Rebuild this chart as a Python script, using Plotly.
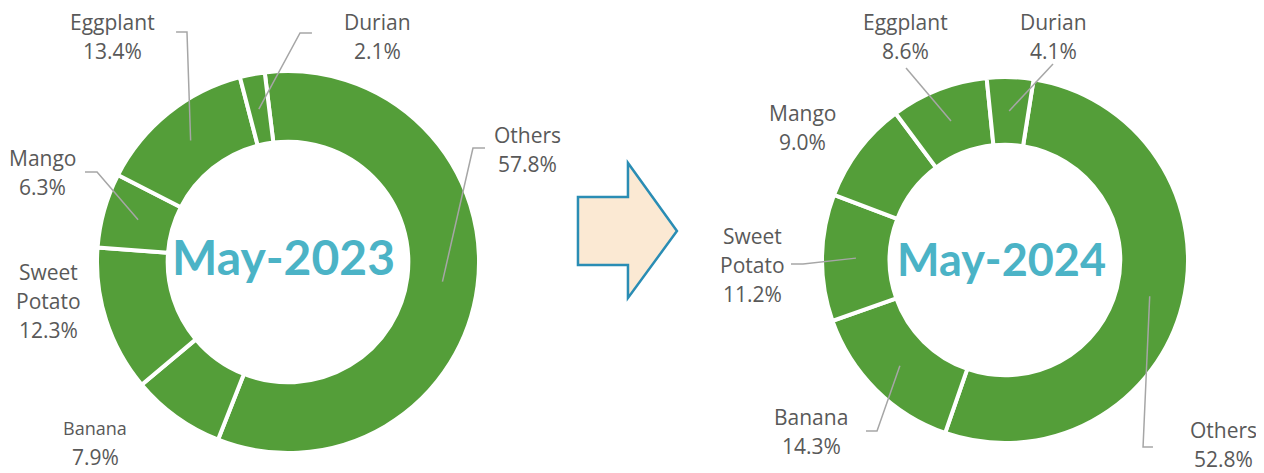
import math
import plotly.graph_objects as go

W, H = 1264, 473
OFF = 8  # the page body adds an 8px margin round the figure
FW, FH = W - OFF, H - OFF

labels = ["Others", "Banana", "Sweet Potato", "Mango", "Eggplant", "Durian"]
share_2023 = [57.8, 7.9, 12.3, 6.3, 13.4, 2.1]
share_2024 = [52.8, 14.3, 11.2, 9.0, 8.6, 4.1]
titles = ["May-2023", "May-2024"]

GREEN = "#549E39"
TEAL = "#4BB3C6"
TXT = "#595959"
LEAD = "#A6A6A6"
FONT = "Open Sans, Arial, sans-serif"
TITLE_FONT = "Lato, Arial, sans-serif"


def to_paper(x, y):
    # page pixels -> paper coords
    return (x - OFF) / FW, 1 - (y - OFF) / FH


# layout of each donut in page pixels: centre, radius, rotation, where each label sits
charts = [
    dict(values=share_2023, title=titles[0], cx=288, cy=262, r=191, rot=-7,
         title_size=48, title_xy=(283, 256),
         text_at={"Others": (527, 135), "Banana": (95, 428), "Sweet Potato": (48, 272),
                  "Mango": (42, 158), "Eggplant": (112, 22), "Durian": (377, 22)},
         elbow={"Others": [(473, 148), (485, 148)], "Mango": [(97, 172), (85, 172)],
                "Eggplant": [(187, 32), (176, 32)], "Durian": [(300, 33), (312, 33)]},
         small={"Banana"}),
    dict(values=share_2024, title=titles[1], cx=1005, cy=260, r=183, rot=9,
         title_size=45, title_xy=(1001, 259),
         text_at={"Others": (1223, 430), "Banana": (811, 417), "Sweet Potato": (752, 236),
                  "Mango": (802, 113), "Eggplant": (905, 22), "Durian": (1053, 22)},
         elbow={"Others": [(1143, 447), (1153, 447)], "Banana": [(877, 431), (866, 431)],
                "Sweet Potato": [(803, 264), (791, 264)], "Eggplant": [(906, 68)],
                "Durian": [(1053, 64)]},
         small=set()),
]

HOLE = 0.63
LINE_GAP = 29

fig = go.Figure()
annotations = []
shapes = []

for c in charts:
    x0, y1 = to_paper(c["cx"] - c["r"], c["cy"] - c["r"])
    x1, y0 = to_paper(c["cx"] + c["r"], c["cy"] + c["r"])
    fig.add_trace(go.Pie(
        labels=labels,
        values=c["values"],
        hole=HOLE,
        sort=False,
        direction="clockwise",
        rotation=c["rot"],
        textinfo="none",
        hoverinfo="label+value",
        marker=dict(colors=[GREEN] * len(labels), line=dict(color="white", width=4)),
        domain=dict(x=[x0, x1], y=[y0, y1]),
        showlegend=False,
    ))

    # centre title
    tx, ty = to_paper(*c["title_xy"])
    annotations.append(dict(x=tx, y=ty, xref="paper", yref="paper", xanchor="center", yanchor="middle",
                            text="<b>%s</b>" % c["title"], showarrow=False,
                            font=dict(family=TITLE_FONT, size=c["title_size"], color=TEAL)))

    total = sum(c["values"])
    ring_mid = c["r"] * (1 + HOLE) / 2
    cum = 0
    for lab, v in zip(labels, c["values"]):
        ang = math.radians(c["rot"] + 360 * (cum + v / 2) / total)
        cum += v
        ax = c["cx"] + ring_mid * math.sin(ang)
        ay = c["cy"] - ring_mid * math.cos(ang)

        lines = lab.split(" ") + ["%.1f%%" % v]
        lx, ly = c["text_at"][lab]
        for i, line in enumerate(lines):
            size = 18 if (lab in c["small"] and i < len(lines) - 1) else 21
            px_, py_ = to_paper(lx, ly + i * LINE_GAP)
            annotations.append(dict(x=px_, y=py_, xref="paper", yref="paper", borderpad=0,
                                    xanchor="center", yanchor="middle", text=line, showarrow=False,
                                    font=dict(family=FONT, size=size, color=TXT)))

        if lab in c["elbow"]:
            pts = [(ax, ay)] + c["elbow"][lab]
            path = "M " + " L ".join("%.4f,%.4f" % to_paper(px_, py_) for px_, py_ in pts)
            shapes.append(dict(type="path", path=path, xref="paper", yref="paper",
                               line=dict(color=LEAD, width=1.5)))

# block arrow between the two donuts
arrow_pts = [(578, 197), (628, 197), (628, 163), (677, 231), (628, 298), (628, 265), (578, 265)]
shapes.append(dict(type="path", xref="paper", yref="paper",
                   path="M " + " L ".join("%.4f,%.4f" % to_paper(x, y) for x, y in arrow_pts) + " Z",
                   fillcolor="#FBE9D3", line=dict(color="#2A8DB4", width=2.5)))

fig.update_layout(
    width=FW, height=FH,
    margin=dict(l=0, r=0, t=0, b=0),
    paper_bgcolor="white",
    plot_bgcolor="white",
    annotations=annotations,
    shapes=shapes,
)

fig.write_html("out.html")
